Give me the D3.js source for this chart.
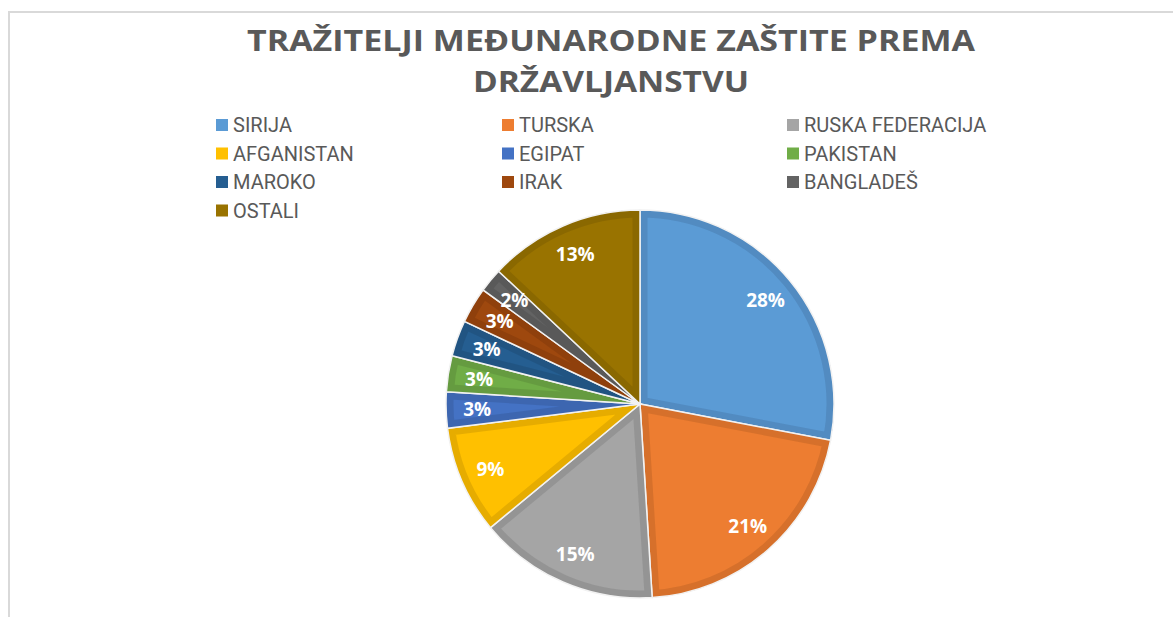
<!DOCTYPE html>
<html>
<head>
<meta charset="utf-8">
<script src="https://cdn.jsdelivr.net/npm/d3@7"></script>
<style>
  body { margin: 0; background: #fff; }
  svg { display: block; }
</style>
</head>
<body>
<div id="chart"></div>
<script>
// data
const countries = ["SIRIJA", "TURSKA", "RUSKA FEDERACIJA", "AFGANISTAN", "EGIPAT",
                   "PAKISTAN", "MAROKO", "IRAK", "BANGLADEŠ", "OSTALI"];
const shares = [28, 21, 15, 9, 3, 3, 3, 3, 2, 13];
const sliceColors = ["#5B9BD5", "#ED7D31", "#A5A5A5", "#FFC000", "#4472C4",
                     "#70AD47", "#255E91", "#9E480E", "#636363", "#997300"];
const titleLines = ["TRAŽITELJI MEĐUNARODNE ZAŠTITE PREMA", "DRŽAVLJANSTVU"];

let width = 1173;
let height = 617;

var svg = d3.select("#chart")
  .append("svg")
  .attr("width", width)
  .attr("height", height);

// chart area frame (only top and left edges are visible)
svg.append("rect")
  .attr("x", 9)
  .attr("y", 12)
  .attr("width", width + 20)
  .attr("height", height + 20)
  .attr("fill", "none")
  .attr("stroke", "#d9d9d9")
  .attr("stroke-width", 2);

// title
svg.selectAll(".title")
  .data(titleLines)
  .enter()
  .append("text")
  .attr("class", "title")
  .attr("x", 611)
  .attr("y", (d, i) => 51 + i * 41)
  .attr("text-anchor", "middle")
  .attr("textLength", (d, i) => i == 0 ? 728 : 276)
  .attr("lengthAdjust", "spacingAndGlyphs")
  .style("font-family", "'Open Sans', sans-serif")
  .style("font-weight", "bold")
  .style("font-size", "29px")
  .style("fill", "#595959")
  .text(d => d);

// legend, 3 columns row by row
let colX = [216, 502, 787];
let legend = svg.selectAll(".legendItem")
  .data(countries)
  .enter()
  .append("g")
  .attr("class", "legendItem")
  .attr("transform", (d, i) => "translate(" + colX[i % 3] + "," + (125 + Math.floor(i / 3) * 28.5) + ")");

legend.append("rect")
  .attr("x", 0)
  .attr("y", -6)
  .attr("width", 12)
  .attr("height", 12)
  .attr("fill", (d, i) => sliceColors[i]);

legend.append("text")
  .attr("x", 17)
  .attr("y", 0)
  .attr("dominant-baseline", "central")
  .style("font-family", "Roboto, sans-serif")
  .style("font-size", "20px")
  .style("fill", "#595959")
  .text(d => d);

// pie
let cx = 640, cy = 404, radius = 194;
let pie = d3.pie().sort(null).value(d => d);
let arc = d3.arc().innerRadius(0).outerRadius(radius);
let labelArc = d3.arc().innerRadius(radius * 0.84).outerRadius(radius * 0.84);

let arcs = pie(shares);
let g = svg.append("g").attr("transform", "translate(" + cx + "," + cy + ")");

let defs = svg.append("defs");
defs.selectAll("clipPath")
  .data(arcs)
  .enter()
  .append("clipPath")
  .attr("id", (d, i) => "clip" + i)
  .append("path")
  .attr("d", arc);

let slices = g.selectAll(".slice")
  .data(arcs)
  .enter()
  .append("g")
  .attr("class", "slice");

slices.append("path")
  .attr("d", arc)
  .attr("fill", (d, i) => sliceColors[i]);

// darker inner bevel along each slice edge
slices.append("path")
  .attr("d", arc)
  .attr("fill", "none")
  .attr("clip-path", (d, i) => "url(#clip" + i + ")")
  .attr("stroke", (d, i) => d3.color(sliceColors[i]).darker(0.4))
  .attr("stroke-opacity", 0.75)
  .attr("stroke-width", 15);

// thin light separators
slices.append("path")
  .attr("d", arc)
  .attr("fill", "none")
  .attr("stroke", "#f2f2f2")
  .attr("stroke-width", 1.5);

// percent labels
g.selectAll(".pctLabel")
  .data(arcs)
  .enter()
  .append("text")
  .attr("class", "pctLabel")
  .attr("transform", d => "translate(" + labelArc.centroid(d) + ")")
  .attr("text-anchor", "middle")
  .attr("dominant-baseline", "central")
  .style("font-family", "'Open Sans', sans-serif")
  .style("font-weight", "bold")
  .style("font-size", "19px")
  .style("fill", "#fff")
  .text(d => d.data + "%");
</script>
</body>
</html>
